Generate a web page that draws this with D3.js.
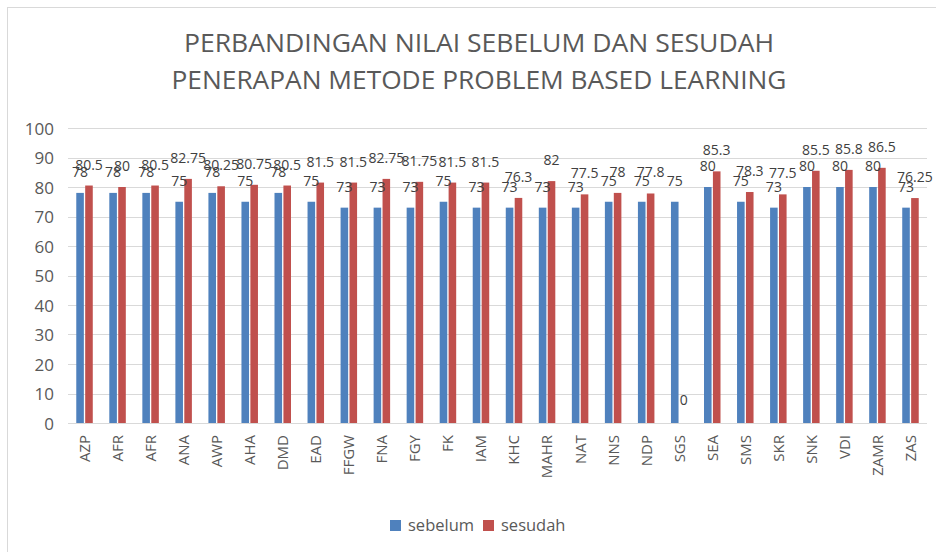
<!DOCTYPE html>
<html>
<head>
<meta charset="utf-8">
<script src="https://cdn.jsdelivr.net/npm/d3@7"></script>
<style>
  body { margin: 0; background: #fff; }
  text { font-family: "Open Sans", sans-serif; }
</style>
</head>
<body>
<div id="chart"></div>
<script>
// data
var categories = ["AZP","AFR","AFR","ANA","AWP","AHA","DMD","EAD","FFGW","FNA","FGY","FK","IAM",
                  "KHC","MAHR","NAT","NNS","NDP","SGS","SEA","SMS","SKR","SNK","VDI","ZAMR","ZAS"];
var sebelum = [78,78,78,75,78,75,78,75,73,73,73,75,73,73,73,73,75,75,75,80,75,73,80,80,80,73];
var sesudah = [80.5,80,80.5,82.75,80.25,80.75,80.5,81.5,81.5,82.75,81.75,81.5,81.5,
               76.3,82,77.5,78,77.8,0,85.3,78.3,77.5,85.5,85.8,86.5,76.25];
var seriesNames = ["sebelum","sesudah"];
var seriesColors = ["#4F81BD","#C0504D"];
var yTicks = [0,10,20,30,40,50,60,70,80,90,100];
var titleLines = ["PERBANDINGAN NILAI SEBELUM DAN SESUDAH",
                  "PENERAPAN METODE PROBLEM BASED LEARNING"];

var width = 936, height = 552;
var plot = {left: 68, right: 927, top: 128, bottom: 423};

var svg = d3.select("#chart").append("svg")
    .attr("width", width)
    .attr("height", height);

// chart frame
svg.append("rect")
    .attr("x", 7.5).attr("y", 7.5)
    .attr("width", width).attr("height", height)
    .attr("fill", "none")
    .attr("stroke", "#d9d9d9");

// title
svg.selectAll("text.title").data(titleLines).enter().append("text")
    .attr("class", "title")
    .attr("x", 479)
    .attr("y", function(d, i) { return 52 + i * 37; })
    .attr("text-anchor", "middle")
    .attr("font-size", 26)
    .attr("fill", "#595959")
    .attr("textLength", function(d, i) { return i == 0 ? 590 : 615; })
    .attr("lengthAdjust", "spacingAndGlyphs")
    .text(function(d) { return d; });

var x0 = d3.scaleBand().domain(d3.range(categories.length))
    .range([plot.left, plot.right]).padding(0);
var x1 = d3.scaleBand().domain(seriesNames)
    .range([0, 16.5]).paddingInner(0.15);
var y = d3.scaleLinear().domain([0, 100]).range([plot.bottom, plot.top]);

// gridlines
svg.append("g").selectAll("line").data(yTicks).enter().append("line")
    .attr("x1", plot.left).attr("x2", plot.right)
    .attr("y1", function(d) { return Math.round(y(d)) + 0.5; })
    .attr("y2", function(d) { return Math.round(y(d)) + 0.5; })
    .attr("stroke", "#d9d9d9");

// y axis labels
var yAxis = svg.append("g")
    .attr("transform", "translate(" + (plot.left - 14) + ",0)")
    .call(d3.axisLeft(y).tickValues(yTicks).tickSize(0).tickPadding(0));
yAxis.select(".domain").remove();
yAxis.selectAll("text")
    .attr("font-size", 17)
    .attr("fill", "#595959")
    .attr("dy", "0.36em")
    .style("font-family", "'Open Sans', sans-serif");

// x axis labels
var xAxis = svg.append("g")
    .attr("transform", "translate(0," + plot.bottom + ")")
    .call(d3.axisBottom(x0).tickFormat(function(i) { return categories[i]; }).tickSize(0));
xAxis.select(".domain").remove();
xAxis.selectAll("text")
    .attr("font-size", 15)
    .attr("fill", "#595959")
    .attr("transform", "rotate(-90)")
    .attr("text-anchor", "end")
    .attr("x", -12)
    .attr("y", 0)
    .attr("dy", "0.36em")
    .style("font-family", "'Open Sans', sans-serif");

// bars + labels
var rows = categories.map(function(c, i) {
    return [{s: "sebelum", v: sebelum[i], c: 0}, {s: "sesudah", v: sesudah[i], c: 1}];
});
var groups = svg.append("g").selectAll("g").data(rows).enter().append("g")
    .attr("transform", function(d, i) { return "translate(" + (x0(i) + (x0.bandwidth() - 16.5) / 2) + ",0)"; });

groups.selectAll("rect").data(function(d) { return d; }).enter().append("rect")
    .attr("x", function(d) { return x1(d.s); })
    .attr("y", function(d) { return y(d.v); })
    .attr("width", x1.bandwidth())
    .attr("height", function(d) { return y(0) - y(d.v); })
    .attr("fill", function(d) { return seriesColors[d.c]; });

groups.selectAll("text").data(function(d) { return d; }).enter().append("text")
    .attr("x", function(d) { return x1(d.s) + x1.bandwidth() / 2; })
    .attr("y", function(d) { return y(d.v) - (d.v == 0 ? 18 : 16); })
    .attr("text-anchor", "middle")
    .attr("font-size", 14)
    .attr("fill", "#404040")
    .text(function(d) { return d.v; });

// legend
var legend = svg.append("g").selectAll("g").data(seriesNames).enter().append("g")
    .attr("transform", function(d, i) { return "translate(" + (390 + i * 93) + ",520)"; });
legend.append("rect")
    .attr("width", 11).attr("height", 11)
    .attr("fill", function(d, i) { return seriesColors[i]; });
legend.append("text")
    .attr("x", 18).attr("y", 11)
    .attr("font-size", 16.5)
    .attr("fill", "#595959")
    .text(function(d) { return d; });
</script>
</body>
</html>
